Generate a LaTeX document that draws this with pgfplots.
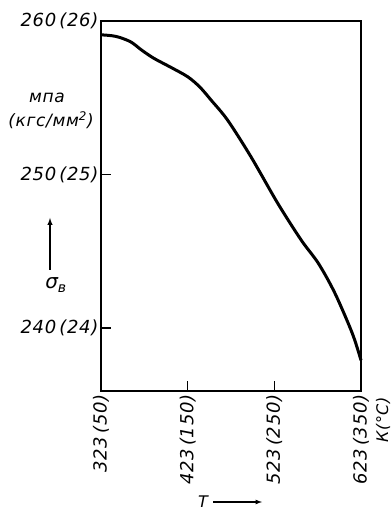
\documentclass[border=0pt]{standalone}
\usepackage{fontspec}
\setmainfont{DejaVu Sans}[LetterSpace=4]
\usepackage{pgfplots}
\pgfplotsset{compat=1.18}
\begin{document}
\begin{tikzpicture}[x=1pt,y=1pt]
\path[use as bounding box] (-101,-120) rectangle (290,391);
\begin{axis}[
  at={(0,0)}, anchor=south west,
  scale only axis, width=260pt, height=370pt,
  xmin=323, xmax=623, ymin=235.9, ymax=260,
  axis line style={line width=1.6pt},
  xtick={323,423,523,623},
  xticklabels={323\,(50),423\,(150),523\,(250),623\,(350)},
  ytick={240,250,260},
  yticklabels={240\,(24),250\,(25),260\,(26)},
  xtick pos=bottom, ytick pos=left,
  tick align=inside, major tick length=10pt,
  tick style={line width=1.4pt, black},
  xticklabel style={rotate=90, anchor=east, font=\itshape\fontsize{18}{18}\selectfont},
  yticklabel style={font=\itshape\fontsize{18}{18}\selectfont, xshift=1pt},
  clip=false,
]
\addplot[line width=3pt, smooth, tension=0.5] coordinates {
(323,259.1) (340,259.0) (357,258.65) (370,258.1) (384,257.57) (403,257.0)
(423,256.37) (437,255.7) (450,254.85) (469,253.55) (496,251.16) (527,248.12)
(554,245.73) (574,244.2) (593,242.26) (613,239.65) (623,237.9)
};
\end{axis}
\node[font=\itshape\fontsize{17}{17}\selectfont] at (-54,293) {мпа};
\node[font=\itshape\fontsize{17}{17}\selectfont] at (-50,271) {(кгс/мм\textsuperscript{2})};
\draw[-{latex}, line width=1.4pt] (-51,121) -- (-51,173);
\node[font=\itshape\fontsize{20}{20}\selectfont] at (-45,106) {σ\textsubscript{в}};
\node[font=\itshape\fontsize{16}{16}\selectfont] at (102,-111) {T};
\draw[-{latex}, line width=1.2pt] (112,-111) -- (161,-111);
\node[rotate=90, font=\itshape\fontsize{16}{16}\selectfont] at (282,-29) {К(°С)};
\end{tikzpicture}
\end{document}
